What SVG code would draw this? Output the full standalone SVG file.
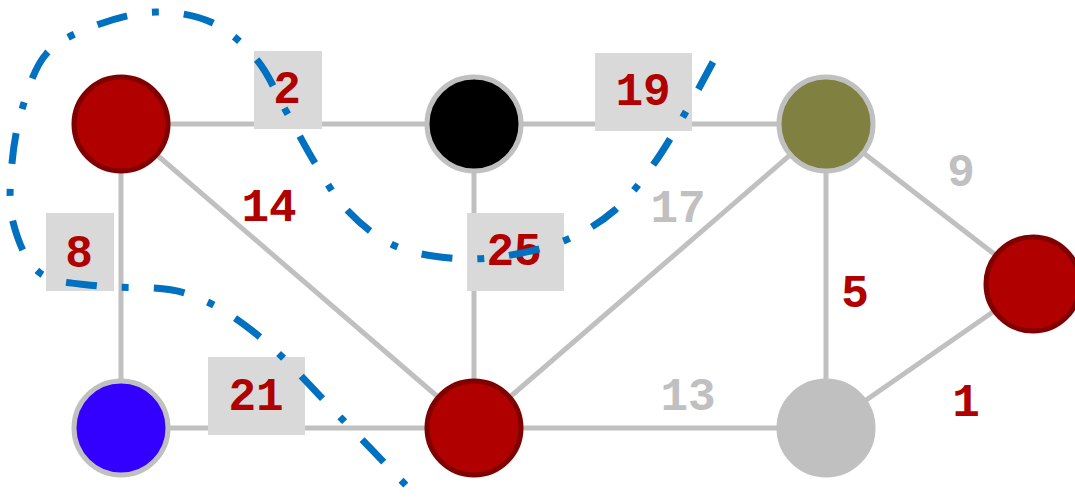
<svg xmlns="http://www.w3.org/2000/svg" width="1075" height="502" viewBox="0 0 1075 502">
<style>
.e{stroke:#c0c0c0;stroke-width:5;fill:none}
.box{fill:#d9d9d9}
.t{font-family:"Liberation Mono","Courier New",monospace;font-weight:bold;font-size:46px;text-anchor:middle}
.r{fill:#b00000}
.g{fill:#c0c0c0}
.nr{fill:#b00000;stroke:#800000;stroke-width:5}
.ng{stroke:#c0c0c0;stroke-width:5}
.cut{fill:none;stroke:#0070c0;stroke-width:7;stroke-dasharray:31 25 7 25}
</style>
<rect width="1075" height="502" fill="#ffffff"/>
<g id="connectors">
<line class="e" x1="121" y1="124" x2="474" y2="124"/>
<line class="e" x1="474" y1="124" x2="826" y2="124"/>
<line class="e" x1="121" y1="124" x2="121" y2="428"/>
<line class="e" x1="121" y1="124" x2="474" y2="428"/>
<line class="e" x1="474" y1="124" x2="474" y2="428"/>
<line class="e" x1="826" y1="124" x2="474" y2="428"/>
<line class="e" x1="826" y1="124" x2="826" y2="428"/>
<line class="e" x1="826" y1="124" x2="1033" y2="284"/>
<line class="e" x1="1033" y1="284" x2="826" y2="428"/>
<line class="e" x1="121" y1="428" x2="474" y2="428"/>
<line class="e" x1="474" y1="428" x2="826" y2="428"/>
<g id="labels">
<rect class="box" x="254" y="51" width="68" height="78"/>
<rect class="box" x="595" y="53" width="97" height="78"/>
<rect class="box" x="46" y="213" width="68" height="78"/>
<rect class="box" x="467" y="213" width="97" height="78"/>
<rect class="box" x="208" y="357" width="97" height="78"/>
<text class="t r" x="287" y="103">2</text>
<text class="t r" x="643" y="105">19</text>
<text class="t r" x="269" y="221">14</text>
<text class="t r" x="79" y="267">8</text>
<text class="t r" x="514" y="265">25</text>
<text class="t g" x="678" y="222">17</text>
<text class="t g" x="961" y="186">9</text>
<text class="t r" x="855" y="307">5</text>
<text class="t r" x="966" y="416">1</text>
<text class="t r" x="256" y="410">21</text>
<text class="t g" x="688" y="410">13</text>
</g>
</g>
<g id="nA"><circle class="nr" cx="121" cy="124" r="47"/></g>
<g id="nB"><circle class="ng" cx="474" cy="124" r="47" fill="#000000"/></g>
<g id="nC"><circle class="ng" cx="826" cy="124" r="47" fill="#808040"/></g>
<g id="nD"><circle class="nr" cx="1033" cy="284" r="47"/></g>
<g id="nE"><circle class="ng" cx="121" cy="428" r="47" fill="#3300ff"/></g>
<g id="nF"><circle class="nr" cx="474" cy="428" r="47"/></g>
<g id="nG"><circle class="ng" cx="826" cy="428" r="47" fill="#c0c0c0"/></g>
<g id="cut">
<path class="cut" d="M 713 62 C 708.2 70.8, 694 97.8, 684 115 C 674 132.2, 664.5 149.2, 653 165 C 641.5 180.8, 629.5 197.5, 615 210 C 600.5 222.5, 584.3 232.3, 566 240 C 547.7 247.7, 524.3 253, 505 256 C 485.7 259, 468.7 259.8, 450 258 C 431.3 256.2, 410.2 253, 393 245 C 375.8 237, 360 223.7, 347 210 C 334 196.3, 325.2 179.5, 315 163 C 304.8 146.5, 295.7 128.2, 286 111 C 276.3 93.8, 269.2 74.7, 257 60 C 244.8 45.3, 229.8 31, 213 23 C 196.2 15, 175.3 11.7, 156 12 C 136.7 12.3, 115.2 18.2, 97 25 C 78.8 31.8, 59.3 39.5, 47 53 C 34.7 66.5, 28.8 87.7, 23 106 C 17.2 124.3, 13.7 143.7, 12 163 C 10.3 182.3, 8.3 203.7, 13 222 C 17.7 240.3, 25.8 262.3, 40 273 C 54.2 283.7, 73.8 282.7, 98 286 C 122.2 289.3, 158 284.5, 185 293 C 212 301.5, 233.7 315.8, 260 337 C 286.3 358.2, 316.3 392.8, 343 420 C 369.7 447.2, 407.2 486.7, 420 500"/>
</g>
</svg>
